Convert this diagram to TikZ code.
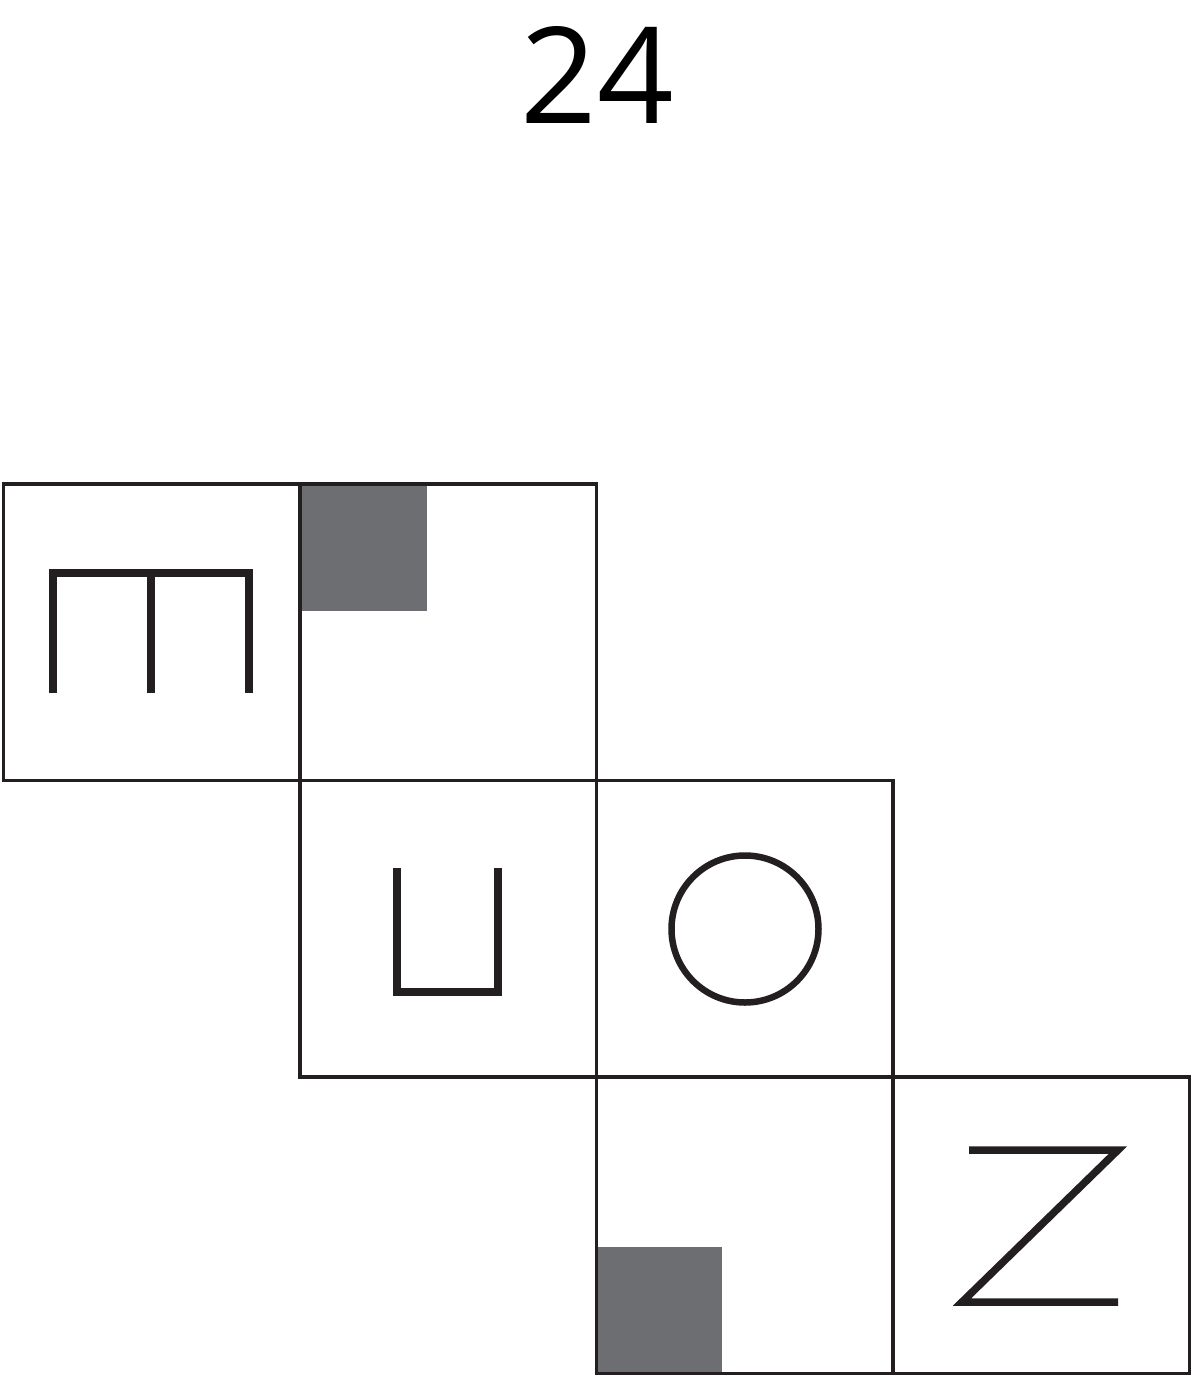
\documentclass[tikz,border=0pt]{standalone}
\usepackage{fontspec}
\setmainfont{Open Sans}
\usetikzlibrary{positioning}
\definecolor{ink}{HTML}{231F20}
\definecolor{patch}{HTML}{6D6E71}
\tikzset{
  cell/.style={draw=ink, line width=1.8pt},
  patchfill/.style={fill=patch},
  glyph/.style={draw=ink, line width=3.75pt, line join=miter},
  numlbl/.style={font=\fontsize{67}{70}\selectfont, text=black, inner sep=0pt}
}
\begin{document}
\begin{tikzpicture}[x=0.5pt, y=-0.5pt]
  \useasboundingbox (0,0) rectangle (1193,1377);
  \node[numlbl] (num) at (597,75) {24};
  % shaded corners
  \fill[patchfill] (300,484) rectangle (427,611);
  \fill[patchfill] (596.5,1247) rectangle (722,1373.5);
  % the six faces of the net
  \foreach \x/\y in {3.5/484, 300/484, 300/780.5, 596.5/780.5, 596.5/1077, 893/1077}
    \draw[cell] (\x,\y) rectangle ++(296.5,296.5);
  % symbols on the faces
  \draw[glyph] (53,693) -- (53,573) -- (249,573) -- (249,693);
  \draw[glyph] (151,573) -- (151,693);
  \draw[glyph] (397,868) -- (397,992) -- (498,992) -- (498,868);
  \draw[glyph, line width=3.25pt] (745,929) circle[radius=73.5];
  \draw[glyph] (969,1150) -- (1118,1150) -- (962,1302) -- (1118,1302);
\end{tikzpicture}
\end{document}
